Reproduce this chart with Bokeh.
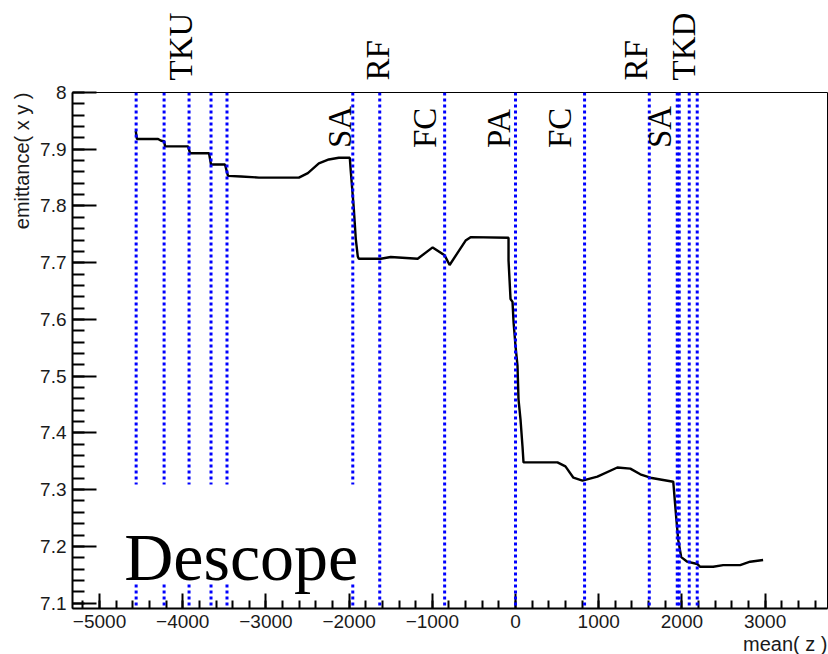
import math
from bokeh.plotting import figure
from bokeh.layouts import column
from bokeh.models import (Range1d, SingleIntervalTicker, Span, BoxAnnotation, Label, Title,
                          CustomJSTickFormatter, ColumnDataSource)
from bokeh.core.properties import value
from bokeh.embed import file_html
from bokeh.resources import INLINE

# ---- data ----
z_mean = [-4565, -4550, -4296, -4260, -4224, -4212, -3936, -3912, -3684, -3660,
          -3492, -3456, -3300, -3084, -2604, -2496, -2364, -2244, -2124, -1992,
          -1980, -1944, -1920, -1896, -1884, -1620, -1500, -1176, -996, -852,
          -792, -600, -540, -84, -84, -60, -36, -24, 0, 24,
          36, 60, 84, 96, 504, 600, 696, 804, 984, 1224,
          1380, 1500, 1620, 1896, 1932, 1956, 1992, 2064, 2184, 2220,
          2376, 2496, 2700, 2820, 2976]
emittance = [7.932, 7.918, 7.918, 7.915, 7.914, 7.905, 7.905, 7.893, 7.893, 7.873,
             7.873, 7.853, 7.852, 7.850, 7.850, 7.858, 7.875, 7.882, 7.885, 7.885,
             7.861, 7.796, 7.742, 7.711, 7.707, 7.707, 7.710, 7.707, 7.727, 7.713,
             7.696, 7.739, 7.745, 7.744, 7.704, 7.636, 7.631, 7.596, 7.553, 7.518,
             7.459, 7.424, 7.376, 7.348, 7.348, 7.341, 7.321, 7.316, 7.323, 7.339,
             7.337, 7.327, 7.321, 7.314, 7.250, 7.211, 7.181, 7.173, 7.169, 7.164,
             7.164, 7.167, 7.167, 7.173, 7.176]

element_z = [-4560, -4224, -3924, -3660, -3468, -1956, -1632, -852, 0, 830,
             1608, 1944, 1968, 2088, 2184]

top_labels = ["TKU", "RF", "RF", "TKD"]
top_label_z = [-4022, -1658, 1450, 2026]
inner_labels = ["SA", "FC", "PA", "FC", "SA"]
inner_label_z = [-2114, -1094, -194, 538, 1738]

x_title = "mean( z )"
y_title = "emittance( x y )"

x_lo, x_hi = -5325, 3750
y_lo, y_hi = 7.0905, 8.0

SERIF = "Liberation Serif"
SANS = "Liberation Sans"
W = 828
TOP_H = 80

# ---- strip above the frame holding the upper element names ----
ptop = figure(width=W, height=TOP_H, output_backend="svg", toolbar_location=None,
              x_range=Range1d(x_lo, x_hi), y_range=Range1d(0, TOP_H),
              x_axis_location=None, y_axis_location=None,
              min_border_left=72, min_border_right=1, min_border_top=0, min_border_bottom=0)
ptop.outline_line_color = None
ptop.xgrid.visible = False
ptop.ygrid.visible = False
ptop.background_fill_color = "white"
ptop.border_fill_color = "white"
top_src = ColumnDataSource(dict(x=top_label_z, y=[0] * len(top_label_z), t=top_labels))
ptop.text(x="x", y="y", text="t", source=top_src, angle=math.pi / 2,
          text_font=value(SERIF), text_font_size="33px", text_color="black",
          text_align="left", text_baseline="alphabetic")

# ---- main plot ----
p = figure(width=W, height=654 - TOP_H, output_backend="svg", toolbar_location=None,
           x_range=ptop.x_range, y_range=Range1d(y_lo, y_hi),
           min_border_left=72, min_border_right=1, min_border_top=12, min_border_bottom=46)
p.background_fill_color = "white"
p.border_fill_color = "white"
p.outline_line_color = "black"
p.outline_line_width = 1
p.xgrid.visible = False
p.ygrid.visible = False

p.xaxis.ticker = SingleIntervalTicker(interval=1000, num_minor_ticks=5)
p.yaxis.ticker = SingleIntervalTicker(interval=0.1, num_minor_ticks=5)
p.xaxis.formatter = CustomJSTickFormatter(
    code="return tick < 0 ? '\u2212' + Math.abs(tick).toFixed(0) : tick.toFixed(0);")
p.yaxis.formatter = CustomJSTickFormatter(code="return Number(tick.toFixed(2)).toString();")
for ax in (p.xaxis[0], p.yaxis[0]):
    ax.axis_line_color = "black"
    ax.axis_line_width = 2
    ax.major_tick_line_color = "black"
    ax.minor_tick_line_color = "black"
    ax.major_tick_line_width = 2
    ax.minor_tick_line_width = 2
    ax.major_tick_out = 0
    ax.minor_tick_out = 0
    ax.major_label_text_font = SANS
    ax.major_label_text_font_size = "19px"
    ax.major_label_text_color = "#1a1a1a"
p.xaxis.major_tick_in = 15
p.xaxis.minor_tick_in = 8
p.yaxis.major_tick_in = 24
p.yaxis.minor_tick_in = 12
p.xaxis.major_label_standoff = 6
p.yaxis.major_label_standoff = 6

# axis titles, ROOT style: aligned with the far end of each axis
p.add_layout(Title(text=x_title, align="right", text_font=SANS, text_font_size="20px",
                   text_font_style="normal", text_color="#1a1a1a", standoff=0), "below")
p.add_layout(Title(text=y_title, align="right", text_font=SANS, text_font_size="20px",
                   text_font_style="normal", text_color="#1a1a1a", standoff=9), "left")

# curve
p.line(z_mean, emittance, line_color="black", line_width=2.4)

# element positions
for z in element_z:
    p.add_layout(Span(location=z, dimension="height", line_color="#0000ff",
                      line_width=3, line_dash="3 3"))

# white pave for "Descope"
p.add_layout(BoxAnnotation(left=-4860, right=-1740, bottom=7.135, top=7.309,
                           fill_color="white", fill_alpha=1.0, line_alpha=0))
p.add_layout(Label(x=-4704, y=7.181, text="Descope", text_font=SERIF,
                   text_font_size="68px", text_color="black",
                   text_align="left", text_baseline="alphabetic"))

# element labels inside the frame
for name, z in zip(inner_labels, inner_label_z):
    p.add_layout(Label(x=z, y=7.902, text=name, angle=90, angle_units="deg",
                       text_font=SERIF, text_font_size="33px", text_color="black",
                       text_align="left", text_baseline="alphabetic"))

layout = column(ptop, p, spacing=0)
open("out.html", "w").write(file_html(layout, INLINE))
